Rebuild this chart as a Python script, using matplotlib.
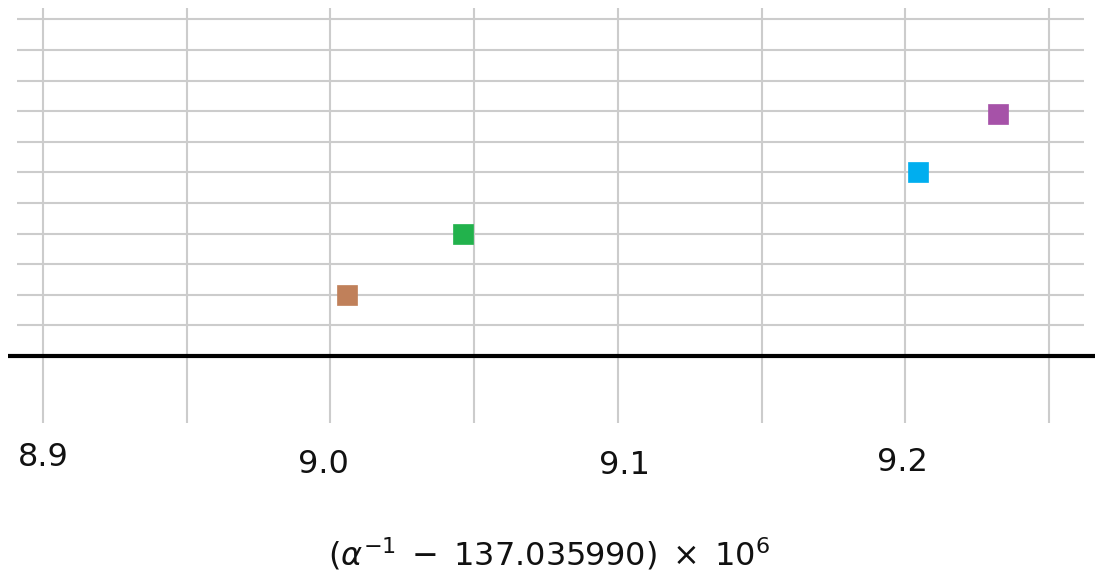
import numpy as np
import matplotlib
matplotlib.use("Agg")
import matplotlib.pyplot as plt
from matplotlib.transforms import ScaledTranslation

# values
alpha_vals = [9.0058, 9.0461, 9.2045, 9.2323]
rows = [2, 4, 6, 7.9]
colors = ["#c0805a", "#22b24c", "#00aeef", "#a652a8"]

grid_rows = np.arange(1, 12)
xticks = [8.9, 9.0, 9.1, 9.2]
xtick_labels = ["8.9", "9.0", "9.1", "9.2"]
minor_grid = [8.95, 9.05, 9.15, 9.25]

fig = plt.figure(figsize=(10.95, 5.75), dpi=100)
ax = fig.add_axes([0.0073, 0.2643, 0.9927, 0.7217])

ax.set_xlim(8.8878, 9.2660)
ax.set_ylim(-2.19, 11.37)

# vertical grid
for xv in xticks + minor_grid:
    ax.axvline(xv, color="#cccccc", lw=1.5, zorder=1)

# horizontal grid, shorter than the axes
ax.hlines(grid_rows, 8.891, 9.2623, color="#cccccc", lw=1.5, zorder=1)

ax.axhline(0, color="black", lw=3, zorder=2)

for xv, yv, c in zip(alpha_vals, rows, colors):
    ax.plot(xv, yv, marker="s", ms=14, color=c, mec=c, mew=0.5, ls="none", zorder=3)

ax.set_xticks(xticks)
ax.set_xticklabels(xtick_labels, fontsize=23, color="#111111")
ax.set_yticks([])
ax.tick_params(axis="x", length=0, pad=14)
for s in ax.spines.values():
    s.set_visible(False)

# labels are slightly jittered in the original
shifts = [(0.0, 0.0), (-0.07, -0.07), (0.07, -0.08), (-0.03, -0.05)]
for lab, (dx, dy) in zip(ax.get_xticklabels(), shifts):
    lab.set_transform(lab.get_transform() + ScaledTranslation(dx, dy, fig.dpi_scale_trans))

fig.text(0.501, 0.036, r"$(\alpha^{-1}\;-\;137.035990)\;\times\;10^6$", fontsize=23,
         ha="center", va="center", color="#111111")

fig.savefig("out.png", dpi=100)
